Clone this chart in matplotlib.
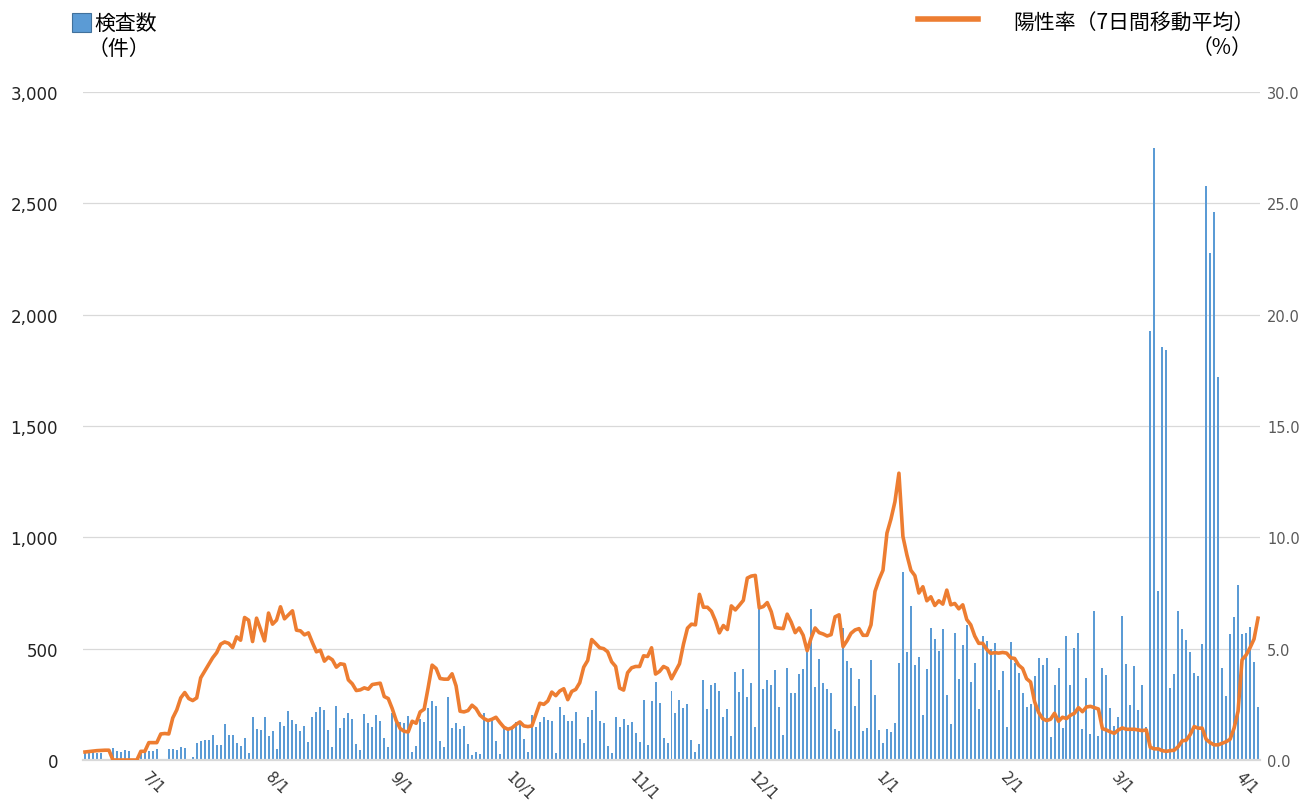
import matplotlib
matplotlib.use('Agg')
import matplotlib.pyplot as plt
from matplotlib.ticker import FuncFormatter
from matplotlib.patches import Rectangle
from matplotlib.lines import Line2D
import numpy as np
import pandas as pd

plt.rcParams['font.family'] = ['DejaVu Sans', 'Noto Sans CJK JP']

# daily data, 2020-06-14 .. 2021-04-04
start = '2020-06-14'
tests = [
    34, 33, 35, 33, 32, 4, 4, 54, 40, 36,
    45, 42, 0, 0, 36, 36, 39, 39, 48, 2,
    4, 48, 50, 45, 57, 56, 3, 12, 75, 84,
    89, 90, 114, 66, 66, 162, 114, 114, 75, 62,
    99, 33, 192, 138, 134, 192, 108, 129, 48, 171,
    153, 219, 179, 162, 129, 153, 81, 193, 216, 238,
    224, 134, 57, 242, 143, 189, 210, 182, 72, 47,
    207, 164, 149, 203, 173, 99, 59, 210, 170, 170,
    165, 198, 36, 62, 182, 171, 234, 266, 242, 86,
    59, 284, 143, 165, 140, 152, 74, 23, 36, 27,
    210, 174, 177, 86, 27, 144, 141, 144, 171, 164,
    93, 36, 203, 149, 171, 195, 180, 174, 32, 236,
    201, 177, 177, 217, 95, 76, 195, 223, 308, 174,
    165, 62, 32, 195, 147, 183, 155, 171, 123, 79,
    268, 68, 264, 350, 255, 98, 77, 311, 209, 271,
    233, 253, 88, 38, 74, 361, 229, 336, 344, 308,
    192, 227, 108, 397, 305, 409, 282, 344, 147, 679,
    317, 359, 337, 406, 237, 113, 415, 300, 303, 387,
    410, 497, 679, 327, 455, 345, 318, 300, 137, 131,
    593, 443, 413, 243, 366, 130, 145, 449, 294, 133,
    76, 139, 124, 166, 434, 843, 485, 691, 425, 461,
    201, 410, 593, 545, 488, 587, 294, 160, 569, 366,
    518, 607, 351, 437, 228, 557, 533, 500, 527, 315,
    398, 146, 532, 435, 389, 300, 236, 253, 377, 458,
    426, 456, 102, 336, 414, 145, 559, 336, 504, 571,
    140, 367, 115, 667, 106, 414, 383, 233, 153, 194,
    648, 430, 245, 421, 223, 338, 148, 1927, 2747, 761,
    1855, 1842, 323, 386, 669, 590, 541, 487, 392, 377,
    522, 2579, 2277, 2460, 1721, 413, 288, 568, 644, 787,
    565, 572, 597, 439, 237,
]
rate = [
    0.36, 0.38, 0.40, 0.42, 0.43, 0.44, 0.44, 0, 0, 0,
    0, 0, 0, 0, 0.39, 0.39, 0.78, 0.78, 0.78, 1.17,
    1.19, 1.17, 1.89, 2.25, 2.79, 3.03, 2.76, 2.67, 2.79, 3.69,
    3.99, 4.29, 4.59, 4.82, 5.20, 5.30, 5.24, 5.05, 5.53, 5.38,
    6.40, 6.28, 5.32, 6.37, 5.87, 5.35, 6.60, 6.10, 6.28, 6.88,
    6.34, 6.52, 6.70, 5.83, 5.80, 5.62, 5.71, 5.27, 4.86, 4.93,
    4.44, 4.62, 4.50, 4.17, 4.32, 4.29, 3.60, 3.42, 3.12, 3.15,
    3.24, 3.18, 3.39, 3.42, 3.45, 2.85, 2.76, 2.31, 1.77, 1.41,
    1.29, 1.26, 1.74, 1.65, 2.16, 2.28, 3.24, 4.26, 4.11, 3.66,
    3.63, 3.63, 3.87, 3.33, 2.19, 2.16, 2.22, 2.46, 2.31, 2.01,
    1.86, 1.77, 1.83, 1.92, 1.68, 1.47, 1.38, 1.44, 1.59, 1.71,
    1.53, 1.50, 1.53, 2.04, 2.55, 2.50, 2.65, 3.05, 2.89, 3.10,
    3.20, 2.71, 3.08, 3.17, 3.47, 4.17, 4.47, 5.41, 5.23, 5.04,
    5.00, 4.86, 4.41, 4.20, 3.23, 3.14, 3.92, 4.14, 4.20, 4.20,
    4.68, 4.65, 5.04, 3.86, 3.98, 4.20, 4.11, 3.65, 3.98, 4.32,
    5.20, 5.92, 6.10, 6.07, 7.44, 6.86, 6.86, 6.68, 6.26, 5.71,
    6.04, 5.86, 6.92, 6.74, 6.95, 7.17, 8.17, 8.26, 8.29, 6.83,
    6.89, 7.07, 6.66, 5.95, 5.92, 5.90, 6.55, 6.19, 5.72, 5.93,
    5.60, 4.91, 5.48, 5.93, 5.72, 5.66, 5.57, 5.63, 6.43, 6.52,
    5.09, 5.36, 5.69, 5.84, 5.90, 5.60, 5.60, 6.07, 7.57, 8.10,
    8.52, 10.19, 10.82, 11.60, 12.88, 10.04, 9.21, 8.52, 8.28, 7.50,
    7.78, 7.15, 7.33, 6.94, 7.15, 7.00, 7.63, 6.97, 7.03, 6.79,
    6.97, 6.31, 6.07, 5.57, 5.24, 5.24, 4.97, 4.79, 4.82, 4.80,
    4.83, 4.80, 4.59, 4.56, 4.26, 4.11, 3.65, 3.50, 2.62, 2.14,
    1.86, 1.77, 1.83, 2.10, 1.74, 1.92, 1.86, 2.01, 2.10, 2.35,
    2.17, 2.38, 2.41, 2.35, 2.29, 1.41, 1.35, 1.26, 1.20, 1.35,
    1.44, 1.38, 1.38, 1.38, 1.35, 1.32, 1.35, 0.57, 0.50, 0.50,
    0.42, 0.39, 0.42, 0.44, 0.60, 0.86, 0.89, 1.14, 1.50, 1.43,
    1.43, 0.93, 0.78, 0.68, 0.68, 0.75, 0.82, 0.93, 1.43, 2.19,
    4.50, 4.71, 5.04, 5.43, 6.37,
]
month_ticks = ['2020-07-01', '2020-08-01', '2020-09-01', '2020-10-01', '2020-11-01',
               '2020-12-01', '2021-01-01', '2021-02-01', '2021-03-01', '2021-04-01']
month_labels = ['7/1', '8/1', '9/1', '10/1', '11/1', '12/1', '1/1', '2/1', '3/1', '4/1']

dates = pd.date_range(start, periods=len(tests), freq='D')
blue = '#5B9BD5'
orange = '#ED7D31'
grid_c = '#D9D9D9'

fig = plt.figure(figsize=(13.06, 8.03), dpi=100)
ax = fig.add_axes([83/1306, 1-761/803, (1260-83)/1306, (761-93)/803])
ax.bar(dates, tests, width=0.5, color=blue, zorder=2)
ax.set_ylim(0, 3000)
ax.set_yticks(np.arange(0, 3001, 500))
ax.yaxis.set_major_formatter(FuncFormatter(lambda v, p: f'{int(v):,}'))
ax.set_xlim(dates[0] - pd.Timedelta(hours=12), dates[-1] + pd.Timedelta(hours=12))
ax.grid(axis='y', color=grid_c, lw=0.9, zorder=0)
ax.set_axisbelow(True)
for s in ['top', 'left', 'right']:
    ax.spines[s].set_visible(False)
ax.spines['bottom'].set_color(grid_c)
ax.spines['bottom'].set_linewidth(1.6)
ax.tick_params(axis='y', length=0, pad=18, labelsize=12, labelcolor='#222222')
ax.set_xticks(pd.to_datetime(month_ticks))
ax.set_xticklabels(month_labels, rotation=-45, ha='center', va='top',
                   fontsize=10.5, color='#333333')
ax.tick_params(axis='x', length=0, pad=6)

ax2 = ax.twinx()
ax2.plot(dates, rate, color=orange, lw=2.6, solid_joinstyle='round', zorder=3)
ax2.set_ylim(0, 30)
ax2.set_yticks(np.arange(0, 31, 5))
ax2.yaxis.set_major_formatter(FuncFormatter(lambda v, p: f'{v:.1f}'))
ax2.tick_params(axis='y', length=0, pad=5, labelsize=10.5, labelcolor='#595959')
for s in ax2.spines.values():
    s.set_visible(False)

# legend / unit labels
jp = ['Noto Sans CJK JP', 'DejaVu Sans']
fig.patches.append(Rectangle((72/1306, 1-33/803), 19/1306, 19/803,
                             transform=fig.transFigure, facecolor=blue,
                             edgecolor='#41719C', lw=0.8))
fig.text(94/1306, 1-24/803, '検査数', family=jp, fontsize=15, va='center', ha='left')
fig.text(88/1306, 1-49/803, '（件）', family=jp, fontsize=15, va='center', ha='left')
fig.lines.append(Line2D([918/1306, 978/1306], [1-20/803, 1-20/803],
                        transform=fig.transFigure, color=orange, lw=4))
fig.text(1255/1306, 1-23/803, '陽性率（7日間移動平均）', family=jp, fontsize=15,
         va='center', ha='right')
fig.text(1252/1306, 1-48/803, '（%）', family=jp, fontsize=15, va='center', ha='right')

fig.savefig('out.png', dpi=100)
